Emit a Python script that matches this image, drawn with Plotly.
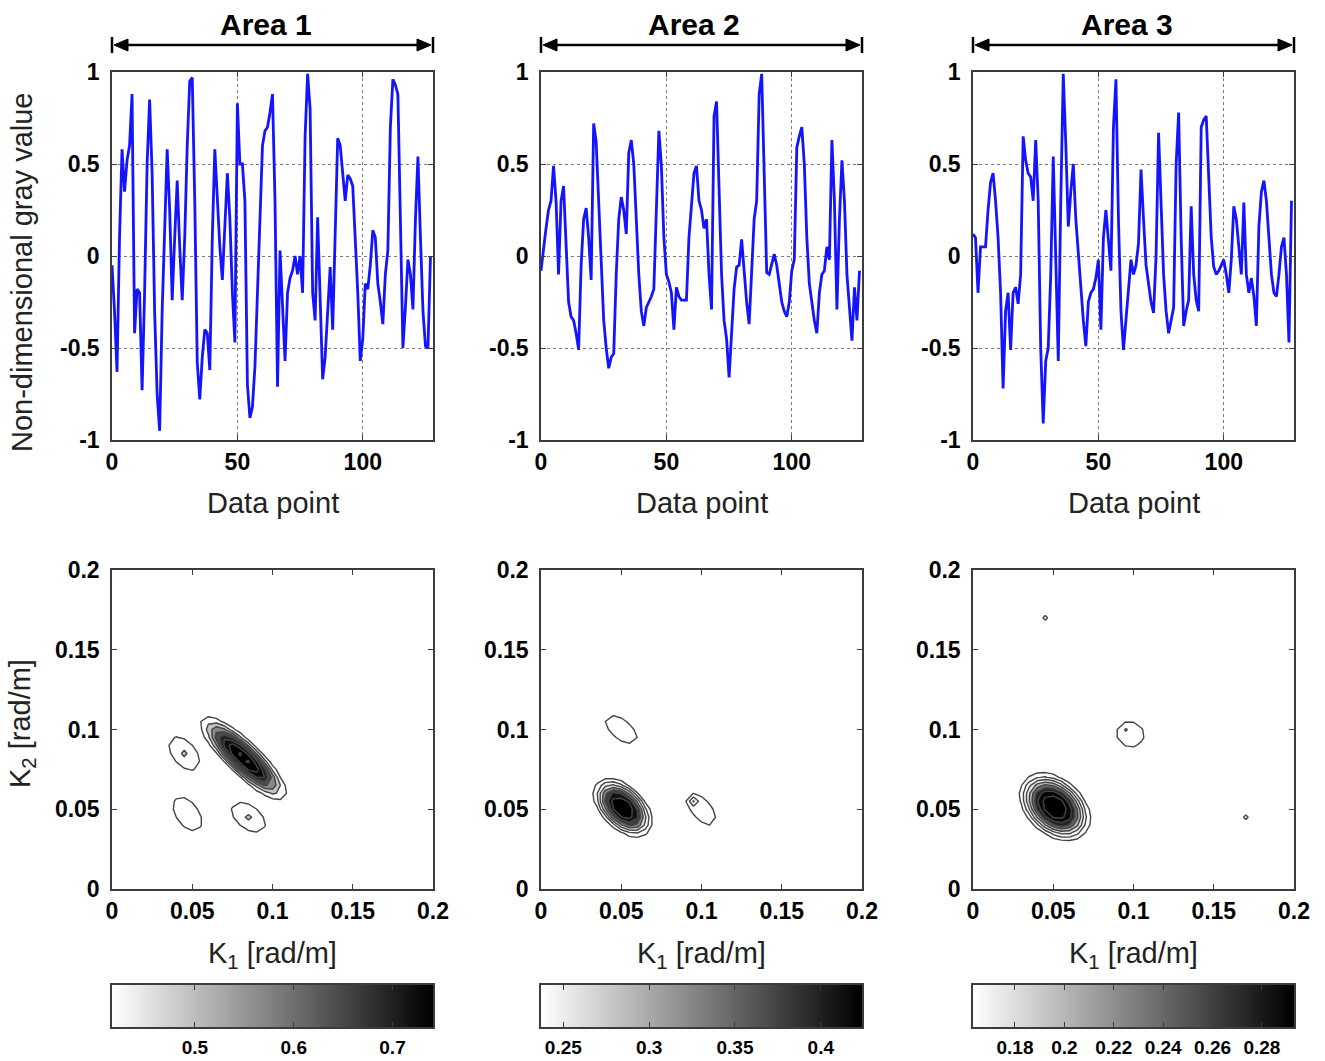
import numpy as np
import plotly.graph_objects as go

FIG_W, FIG_H = 1325, 1061
FONT = "Liberation Sans, Arial, sans-serif"

# ---------------------------------------------------------------------------
# Non-dimensional gray-value profiles, 128 samples per area
# ---------------------------------------------------------------------------
data_point = list(range(128))

area1_gray = [
    -0.05, -0.30, -0.63, 0.10, 0.58, 0.35, 0.52, 0.60, 0.88, -0.42,
    -0.18, -0.20, -0.73, -0.20, 0.50, 0.85, 0.45, -0.30, -0.75, -0.95,
    -0.30, 0.20, 0.58, 0.25, -0.24, 0.10, 0.41, 0.05, -0.24, 0.10,
    0.60, 0.95, 0.97, 0.30, -0.58, -0.78, -0.55, -0.40, -0.42, -0.62,
    0.10, 0.58, 0.30, 0.05, -0.13, 0.20, 0.45, 0.20, -0.20, -0.47,
    0.83, 0.50, 0.50, 0.30, -0.70, -0.88, -0.82, -0.60, -0.20, 0.30,
    0.60, 0.68, 0.70, 0.78, 0.88, 0.30, -0.71, 0.03, -0.30, -0.57,
    -0.20, -0.12, -0.08, 0.00, -0.10, 0.00, -0.20, 0.65, 0.99, 0.80,
    -0.20, -0.35, 0.21, -0.30, -0.67, -0.55, -0.30, -0.06, -0.40, 0.20,
    0.64, 0.60, 0.45, 0.30, 0.44, 0.42, 0.38, 0.10, -0.20, -0.57,
    -0.45, -0.15, -0.18, -0.05, 0.14, 0.10, -0.15, -0.25, -0.37, -0.10,
    0.03, 0.70, 0.96, 0.93, 0.88, 0.20, -0.50, -0.28, -0.02, -0.10,
    -0.29, 0.20, 0.54, 0.10, -0.30, -0.49, -0.50, 0.00,
]

area2_gray = [
    -0.08, 0.05, 0.15, 0.25, 0.30, 0.49, 0.30, -0.10, 0.30, 0.38,
    0.09, -0.25, -0.33, -0.35, -0.42, -0.51, -0.05, 0.20, 0.26, 0.10,
    -0.13, 0.72, 0.62, 0.30, 0.05, -0.35, -0.50, -0.61, -0.55, -0.53,
    -0.10, 0.20, 0.32, 0.25, 0.12, 0.56, 0.63, 0.50, 0.20, -0.10,
    -0.30, -0.38, -0.28, -0.25, -0.22, -0.18, 0.30, 0.68, 0.49, 0.10,
    -0.10, -0.14, -0.20, -0.40, -0.17, -0.22, -0.24, -0.24, -0.24, 0.10,
    0.29, 0.45, 0.49, 0.30, 0.25, 0.15, 0.20, -0.10, -0.29, 0.76,
    0.84, 0.40, -0.10, -0.35, -0.45, -0.66, -0.40, -0.18, -0.06, -0.05,
    0.09, -0.10, -0.25, -0.37, -0.10, 0.20, 0.30, 0.88, 0.99, 0.50,
    -0.09, -0.10, -0.05, 0.01, -0.05, -0.15, -0.25, -0.30, -0.33, -0.25,
    -0.08, -0.02, 0.59, 0.65, 0.70, 0.50, 0.10, -0.15, -0.25, -0.35,
    -0.42, -0.20, -0.10, -0.08, 0.05, -0.02, 0.63, 0.30, -0.29, 0.20,
    0.52, 0.30, -0.10, -0.28, -0.46, -0.17, -0.35, -0.08,
]

area3_gray = [
    0.12, 0.10, -0.20, 0.05, 0.05, 0.05, 0.25, 0.40, 0.45, 0.30,
    0.10, -0.20, -0.72, -0.30, -0.20, -0.51, -0.20, -0.17, -0.26, -0.10,
    0.65, 0.52, 0.45, 0.43, 0.30, 0.63, 0.30, -0.50, -0.91, -0.57,
    -0.50, -0.10, 0.54, -0.10, -0.57, 0.30, 0.99, 0.61, 0.16, 0.35,
    0.50, 0.20, 0.00, -0.20, -0.35, -0.49, -0.25, -0.20, -0.18, -0.12,
    -0.02, -0.40, 0.10, 0.25, 0.10, -0.08, 0.70, 0.96, 0.20, -0.30,
    -0.51, -0.35, -0.20, -0.02, -0.10, -0.05, 0.07, 0.47, 0.20, -0.05,
    -0.15, -0.25, -0.31, 0.00, 0.67, 0.30, -0.10, -0.30, -0.42, -0.35,
    -0.28, 0.50, 0.78, 0.10, -0.38, -0.30, -0.24, 0.27, -0.10, -0.24,
    -0.30, 0.70, 0.74, 0.76, 0.40, 0.10, -0.06, -0.10, -0.08, -0.05,
    -0.02, -0.10, -0.20, -0.02, 0.27, 0.20, 0.05, -0.10, 0.29, -0.10,
    -0.20, -0.12, -0.22, -0.38, 0.16, 0.35, 0.41, 0.30, 0.10, -0.10,
    -0.20, -0.22, -0.10, 0.05, 0.10, -0.10, -0.47, 0.30,
]

area_titles = ["Area 1", "Area 2", "Area 3"]

# ---------------------------------------------------------------------------
# Wavenumber spectra: every peak has a centre (k1, k2), a height above the
# spectrum floor, a spread along / across its main axis, a tilt (deg) and a
# shape exponent (1 = Gaussian, >1 = flatter top with steeper flanks).
# ---------------------------------------------------------------------------
k_axis = np.linspace(0.0, 0.2, 41)

spec1_k1 = [0.0820, 0.0450, 0.0470, 0.0850]
spec1_k2 = [0.0820, 0.0850, 0.0470, 0.0450]
spec1_amp = [0.34, 0.097, 0.080, 0.097]
spec1_along = [0.0214, 0.0106, 0.0124, 0.0106]
spec1_across = [0.0060, 0.0062, 0.0072, 0.0062]
spec1_tilt = [-44, -50, -55, -38]
spec1_power = [1.3, 1.0, 1.0, 1.0]
spec1_floor = 0.40

spec2_k1 = [0.0510, 0.0500, 0.1000, 0.0950]
spec2_k2 = [0.0510, 0.1000, 0.0500, 0.0550]
spec2_amp = [0.200, 0.045, 0.045, 0.045]
spec2_along = [0.0145, 0.0133, 0.0133, 0.0015]
spec2_across = [0.0085, 0.0067, 0.0067, 0.0015]
spec2_tilt = [-45, -40, -50, 0]
spec2_power = [1.6, 1.0, 1.0, 1.0]
spec2_floor = 0.22

spec3_k1 = [0.0510, 0.0980, 0.0950, 0.0450, 0.1700]
spec3_k2 = [0.0515, 0.0970, 0.1000, 0.1700, 0.0450]
spec3_amp = [0.143, 0.034, 0.008, 0.028, 0.028]
spec3_along = [0.0163, 0.0084, 0.0015, 0.0015, 0.0015]
spec3_across = [0.0111, 0.0076, 0.0015, 0.0015, 0.0015]
spec3_tilt = [-42, -20, 0, 0, 0]
spec3_power = [1.6, 1.0, 1.0, 1.0, 1.0]
spec3_floor = 0.15

# contour levels and fill shades (0-255) of the bands: background, then one
# shade per band above each level
level_start = [0.45, 0.25, 0.17]
level_end = [0.73, 0.40, 0.282]
level_step = [0.04, 0.025, 0.016]
band_shades = [
    [255, 255, 195, 135, 75, 35, 12, 0, 0],
    [255, 255, 245, 215, 130, 60, 18, 0],
    [255, 255, 248, 230, 180, 100, 35, 8, 0],
]

# colour-bar ranges and ticks
cbar_lo = [0.416, 0.237, 0.163]
cbar_hi = [0.741, 0.424, 0.293]
cbar_ticks = [[0.5, 0.6, 0.7],
              [0.25, 0.3, 0.35, 0.4],
              [0.18, 0.2, 0.22, 0.24, 0.26, 0.28]]
cbar_ticktext = [["0.5", "0.6", "0.7"],
                 ["0.25", "0.3", "0.35", "0.4"],
                 ["0.18", "0.2", "0.22", "0.24", "0.26", "0.28"]]


def spectrum(k1c, k2c, amp, along, across, tilt, power, floor):
    K1, K2 = np.meshgrid(k_axis, k_axis)
    Z = np.full_like(K1, floor)
    for c1, c2, a, sa, sc, t, p in zip(k1c, k2c, amp, along, across, tilt, power):
        th = np.deg2rad(t)
        d1, d2 = K1 - c1, K2 - c2
        u = d1 * np.cos(th) + d2 * np.sin(th)
        w = -d1 * np.sin(th) + d2 * np.cos(th)
        q = (u / sa) ** 2 + (w / sc) ** 2
        Z += a * np.exp(-0.5 * q ** p)
    return Z


def band_colorscale(shades):
    """Step colour scale giving each contour band one flat gray shade."""
    nc = len(shades) - 1
    scale = []
    for k in range(nc):
        col = f"rgb({shades[k]},{shades[k]},{shades[k]})"
        scale.append([k / nc, col])
        scale.append([(k + 1) / nc - 1e-6, col])
    last = shades[-1]
    scale.append([1.0, f"rgb({last},{last},{last})"])
    return scale


spectra = [
    spectrum(spec1_k1, spec1_k2, spec1_amp, spec1_along, spec1_across,
             spec1_tilt, spec1_power, spec1_floor),
    spectrum(spec2_k1, spec2_k2, spec2_amp, spec2_along, spec2_across,
             spec2_tilt, spec2_power, spec2_floor),
    spectrum(spec3_k1, spec3_k2, spec3_amp, spec3_along, spec3_across,
             spec3_tilt, spec3_power, spec3_floor),
]
profiles = [area1_gray, area2_gray, area3_gray]

# ---------------------------------------------------------------------------
# Page geometry (pixels)
# ---------------------------------------------------------------------------
COL_PX = [(112, 433), (541, 862), (973, 1294)]
TOP_PX = (72, 440)
BOT_PX = (570, 889)
CBAR_PX = (985, 1027)
SPAN_Y = 45          # height of the double arrow above each column
HEAD_LEN, HEAD_HALF = 14, 6


def fx(px):
    return px / FIG_W


def fy(py):
    return 1 - py / FIG_H


GRAY = [[0.0, "rgb(255,255,255)"], [1.0, "rgb(0,0,0)"]]
EDGE = "#3c3c3c"
TITLE_FONT = dict(family=FONT, size=29, color="#222")

axis_common = dict(
    showline=True, linecolor=EDGE, linewidth=1.5, mirror="ticks",
    ticks="inside", ticklen=5, tickwidth=1, tickcolor=EDGE,
    showgrid=True, gridcolor="#7a7a7a", griddash="dot", gridwidth=1,
    zeroline=False, fixedrange=True, automargin=False,
    tickfont=dict(family=FONT, size=23, color="black", weight="bold"),
)

fig = go.Figure()
layout_axes = {}
annotations = []
shapes = []


def axis_keys(n):
    return ("xaxis" if n == 1 else f"xaxis{n}",
            "yaxis" if n == 1 else f"yaxis{n}",
            "x" if n == 1 else f"x{n}",
            "y" if n == 1 else f"y{n}")


def arrow_head(tip, direction):
    """Filled triangular head (paper coords) pointing in +1/-1 x direction."""
    base = tip - direction * HEAD_LEN
    return (f"M {fx(tip)},{fy(SPAN_Y)} "
            f"L {fx(base)},{fy(SPAN_Y - HEAD_HALF)} "
            f"L {fx(base)},{fy(SPAN_Y + HEAD_HALF)} Z")


for c in range(3):
    x0, x1 = COL_PX[c]
    xc = (x0 + x1) / 2

    # --- gray-value profile ---------------------------------------------
    xa, ya, xr, yr = axis_keys(c + 1)
    fig.add_trace(go.Scatter(
        x=data_point, y=profiles[c], mode="lines",
        line=dict(color="#1414ff", width=2.8),
        xaxis=xr, yaxis=yr, showlegend=False, hoverinfo="skip",
    ))
    layout_axes[xa] = dict(axis_common, domain=[fx(x0), fx(x1)], anchor=yr,
                           range=[0, 128], tickvals=[0, 50, 100],
                           ticklabelstandoff=1)
    layout_axes[ya] = dict(axis_common, domain=[fy(TOP_PX[1]), fy(TOP_PX[0])],
                           anchor=xr, range=[-1, 1],
                           tickvals=[-1, -0.5, 0, 0.5, 1],
                           ticktext=["-1", "-0.5", "0", "0.5", "1"],
                           ticklabelstandoff=6)

    # --- wavenumber spectrum -------------------------------------------
    xa, ya, xr, yr = axis_keys(c + 4)
    fig.add_trace(go.Contour(
        x=k_axis, y=k_axis, z=spectra[c],
        autocontour=False,
        contours=dict(start=level_start[c], end=level_end[c], size=level_step[c],
                      coloring="fill", showlines=True),
        line=dict(color="#444444", width=1.4, smoothing=0),
        colorscale=band_colorscale(band_shades[c]), showscale=False,
        hoverinfo="skip", xaxis=xr, yaxis=yr,
    ))
    k_ticks = [0, 0.05, 0.1, 0.15, 0.2]
    k_text = ["0", "0.05", "0.1", "0.15", "0.2"]
    layout_axes[xa] = dict(axis_common, domain=[fx(x0), fx(x1)], anchor=yr,
                           range=[0, 0.2], tickvals=k_ticks, ticktext=k_text,
                           ticklabelstandoff=1)
    layout_axes[ya] = dict(axis_common, domain=[fy(BOT_PX[1]), fy(BOT_PX[0])],
                           anchor=xr, range=[0, 0.2], tickvals=k_ticks,
                           ticktext=k_text, ticklabelstandoff=6)

    # --- colour bar of the spectrum (gray ramp on its own axis) ---------
    xa, ya, xr, yr = axis_keys(c + 7)
    ramp = np.linspace(cbar_lo[c], cbar_hi[c], 256)
    fig.add_trace(go.Heatmap(
        x=ramp, y=[0, 1], z=[ramp, ramp],
        colorscale=GRAY, zmin=cbar_lo[c], zmax=cbar_hi[c], showscale=False,
        hoverinfo="skip", xaxis=xr, yaxis=yr,
    ))
    layout_axes[xa] = dict(
        domain=[fx(x0), fx(x1)], anchor=yr, range=[cbar_lo[c], cbar_hi[c]],
        tickvals=cbar_ticks[c], ticktext=cbar_ticktext[c],
        ticks="inside", ticklen=5, tickwidth=1, tickcolor=EDGE,
        showline=True, linecolor=EDGE, linewidth=1.5, mirror="ticks",
        showgrid=False, zeroline=False, fixedrange=True, ticklabelstandoff=2,
        automargin=False,
        tickfont=dict(family=FONT, size=19, color="black", weight="bold"),
    )
    layout_axes[ya] = dict(
        domain=[fy(CBAR_PX[1]), fy(CBAR_PX[0])], anchor=xr, range=[0, 1],
        showticklabels=False, ticks="", showline=True, linecolor=EDGE,
        linewidth=1.5, mirror=True, showgrid=False, zeroline=False,
        fixedrange=True, automargin=False,
    )

    # --- column title with a double arrow spanning the column -----------
    annotations.append(dict(text=f"<b>{area_titles[c]}</b>", x=fx(xc - 7), y=fy(25),
                            xref="paper", yref="paper", showarrow=False,
                            xanchor="center", yanchor="middle",
                            font=dict(family=FONT, size=30, color="black")))
    shapes.append(dict(type="line", xref="paper", yref="paper",
                       x0=fx(x0 + 4), x1=fx(x1 - 4), y0=fy(SPAN_Y), y1=fy(SPAN_Y),
                       line=dict(color="black", width=2.5)))
    shapes.append(dict(type="path", xref="paper", yref="paper",
                       path=arrow_head(x0 + 2, -1), fillcolor="black",
                       line=dict(color="black", width=1)))
    shapes.append(dict(type="path", xref="paper", yref="paper",
                       path=arrow_head(x1 - 2, 1), fillcolor="black",
                       line=dict(color="black", width=1)))
    for xe in (x0, x1):
        shapes.append(dict(type="line", xref="paper", yref="paper",
                           x0=fx(xe), x1=fx(xe), y0=fy(SPAN_Y - 8), y1=fy(SPAN_Y + 8),
                           line=dict(color="black", width=2.5)))

    # --- axis labels ------------------------------------------------------
    annotations.append(dict(text="Data point", x=fx(xc), y=fy(503),
                            xref="paper", yref="paper", showarrow=False,
                            xanchor="center", yanchor="middle", font=TITLE_FONT))
    annotations.append(dict(text="K<sub>1</sub> [rad/m]", x=fx(xc), y=fy(955),
                            xref="paper", yref="paper", showarrow=False,
                            xanchor="center", yanchor="middle", font=TITLE_FONT))

annotations.append(dict(text="Non-dimensional gray value", x=fx(22), y=fy(273),
                        xref="paper", yref="paper", showarrow=False, textangle=-90,
                        xanchor="center", yanchor="middle", font=TITLE_FONT))
annotations.append(dict(text="K<sub>2</sub> [rad/m]", x=fx(22), y=fy(724),
                        xref="paper", yref="paper", showarrow=False, textangle=-90,
                        xanchor="center", yanchor="middle", font=TITLE_FONT))

fig.update_layout(
    width=FIG_W, height=FIG_H, autosize=False,
    margin=dict(l=0, r=0, t=0, b=0, pad=0, autoexpand=False),
    paper_bgcolor="white", plot_bgcolor="white",
    showlegend=False,
    annotations=annotations, shapes=shapes,
    **layout_axes,
)

fig.write_html("out.html")
